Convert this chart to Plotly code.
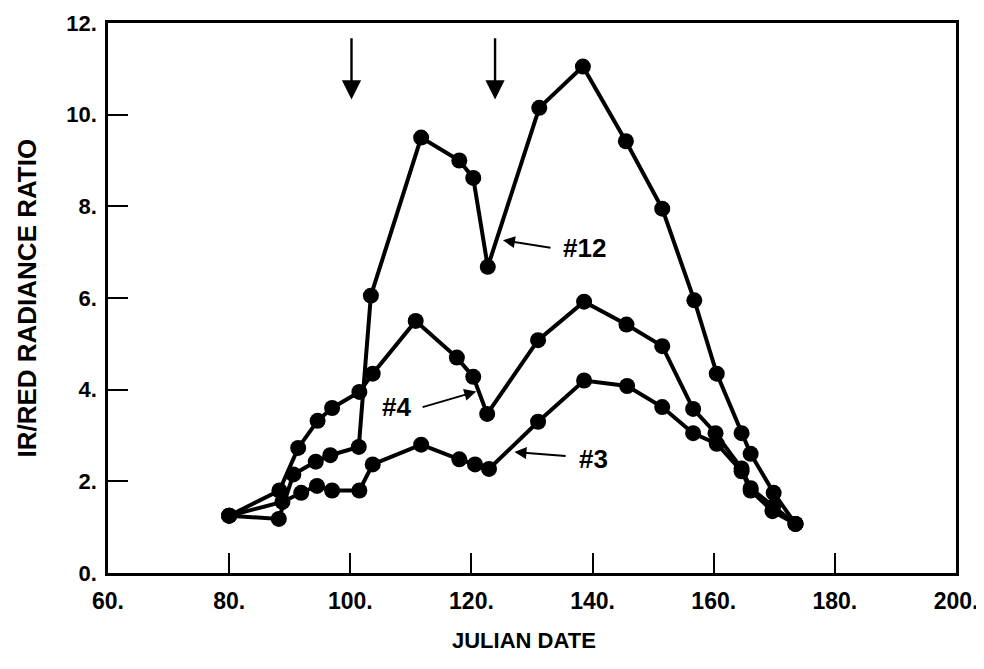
import plotly.graph_objects as go

# Data
days_12 = [80, 88.2, 90.6, 94.3, 96.7, 101.4, 103.4, 111.7, 118.0, 120.3, 122.7, 131.2, 138.4, 145.5, 151.5, 156.8, 160.5, 164.6, 166.1, 169.9, 173.5]
ratio_12 = [1.25, 1.18, 2.15, 2.43, 2.57, 2.75, 6.05, 9.5, 9.0, 8.62, 6.68, 10.15, 11.05, 9.42, 7.95, 5.95, 4.35, 3.05, 2.6, 1.75, 1.07]

days_4 = [80, 88.3, 91.4, 94.6, 97.0, 101.5, 103.7, 110.8, 117.6, 120.3, 122.6, 131.0, 138.6, 145.6, 151.5, 156.6, 160.3, 164.6, 166.1, 169.8, 173.5]
ratio_4 = [1.25, 1.8, 2.73, 3.32, 3.6, 3.95, 4.35, 5.5, 4.7, 4.28, 3.47, 5.08, 5.92, 5.42, 4.95, 3.58, 3.05, 2.28, 1.85, 1.45, 1.07]

days_3 = [80, 88.8, 91.9, 94.5, 97.0, 101.5, 103.7, 111.7, 118.0, 120.6, 122.9, 131.0, 138.6, 145.7, 151.5, 156.6, 160.5, 164.6, 166.1, 169.7, 173.5]
ratio_3 = [1.25, 1.55, 1.75, 1.9, 1.8, 1.8, 2.37, 2.8, 2.48, 2.37, 2.27, 3.3, 4.2, 4.08, 3.62, 3.05, 2.82, 2.22, 1.8, 1.35, 1.07]

x_ticks = [60, 80, 100, 120, 140, 160, 180, 200]
x_ticktext = ["60.", "80.", "100.", "120.", "140.", "160.", "180.", "200."]
y_ticks = [0, 2, 4, 6, 8, 10, 12]
y_ticktext = ["0.", "2.", "4.", "6.", "8.", "10.", "12."]

# series labels: (text, label x, label y, arrow tail x, tail y, tip x, tip y)
labels = [
    ("#12", 138.6, 7.1, 133.3, 7.09, 125.2, 7.26),
    ("#4", 107.6, 3.63, 111.7, 3.61, 120.8, 3.96),
    ("#3", 140.2, 2.48, 135.8, 2.55, 127.1, 2.64),
]
event_days = [100.2, 123.9]

fig = go.Figure()
for d, r, name in [(days_12, ratio_12, "#12"), (days_4, ratio_4, "#4"), (days_3, ratio_3, "#3")]:
    fig.add_trace(go.Scatter(
        x=d, y=r, mode="lines+markers", name=name,
        line=dict(color="black", width=4),
        marker=dict(color="black", size=16, symbol="circle"),
        showlegend=False,
    ))

FAM = "Liberation Sans"
font_x = dict(family=FAM, size=23, color="black", weight="bold")
font_y = dict(family=FAM, size=22, color="black", weight="bold")

for text, lx, ly, tx, ty, hx, hy in labels:
    fig.add_annotation(x=lx, y=ly, text=text, showarrow=False,
                       font=dict(family=FAM, size=26, color="black", weight="bold"))
    fig.add_annotation(x=hx, y=hy, ax=tx, ay=ty, xref="x", yref="y", axref="x", ayref="y",
                       text="", showarrow=True, arrowhead=2, arrowsize=1.2, arrowwidth=2,
                       arrowcolor="black")

for d in event_days:
    fig.add_annotation(x=d, y=10.33, ax=d, ay=11.7, xref="x", yref="y", axref="x", ayref="y",
                       text="", showarrow=True, arrowhead=2, arrowsize=1.6, arrowwidth=2.4,
                       arrowcolor="black")

# axis titles
fig.add_annotation(x=0.49, y=-0.122, xref="paper", yref="paper", text="JULIAN DATE",
                   showarrow=False, xanchor="center", yanchor="middle",
                   font=dict(family=FAM, size=22, color="black", weight="bold"))
fig.add_annotation(x=-0.096, y=0.5, xref="paper", yref="paper", text="IR/RED RADIANCE RATIO",
                   showarrow=False, xanchor="center", yanchor="middle", textangle=-90,
                   font=dict(family=FAM, size=26, color="black", weight="bold"))

fig.update_layout(
    width=976, height=661,
    margin=dict(l=100, r=28, t=15, b=96),
    paper_bgcolor="white", plot_bgcolor="white",
    xaxis=dict(
        range=[60, 200], tickvals=x_ticks, ticktext=x_ticktext,
        showgrid=False, zeroline=False, automargin=False,
        showline=True, linecolor="black", linewidth=2.5, mirror=True,
        ticks="inside", ticklen=20, tickwidth=2, tickcolor="black",
        tickfont=font_x, ticklabelstandoff=6, ticklabeloverflow="allow",
    ),
    yaxis=dict(
        range=[0, 12], tickvals=y_ticks, ticktext=y_ticktext,
        showgrid=False, zeroline=False, automargin=False,
        showline=True, linecolor="black", linewidth=2.5, mirror=True,
        ticks="inside", ticklen=20, tickwidth=2, tickcolor="black",
        tickfont=font_y, ticklabelstandoff=4, ticklabeloverflow="allow",
    ),
)

fig.write_html("out.html")
